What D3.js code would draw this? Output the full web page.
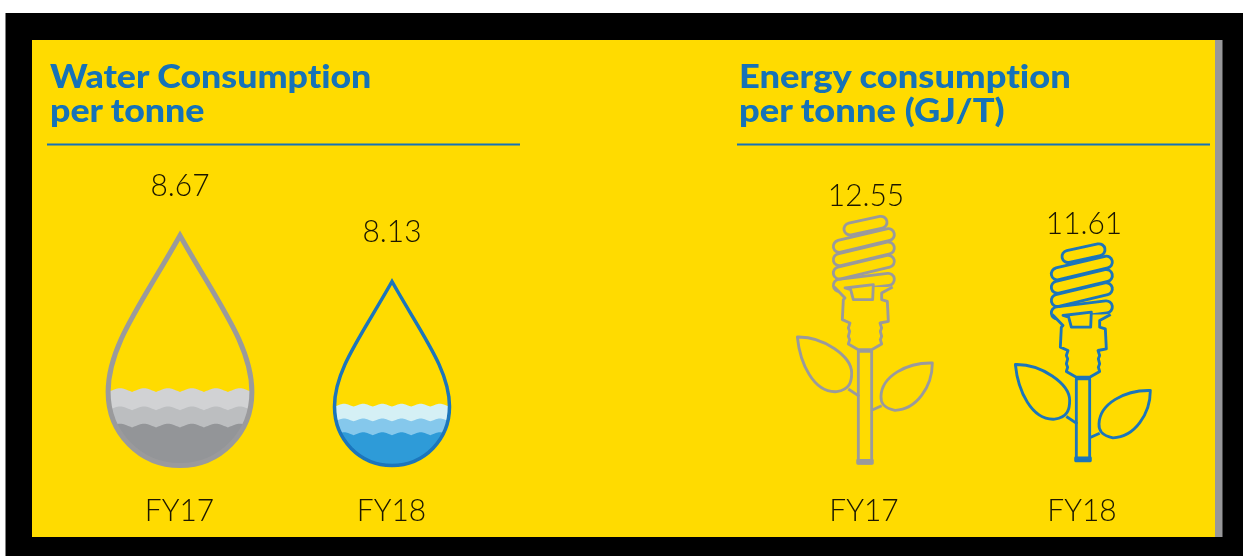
<!DOCTYPE html>
<html><head><meta charset="utf-8">
<script src="https://cdn.jsdelivr.net/npm/d3@7/dist/d3.min.js"></script>
<style>html,body{margin:0;padding:0;background:#fff}svg{display:block}text{font-variant-ligatures:none}</style>
</head><body><svg id="c" width="1243" height="556"></svg>
<script>
// Data
const years = ["FY17", "FY18"];
const waterValues = [8.67, 8.13];
const energyValues = [12.55, 11.61];
const waterTitle = ["Water Consumption", "per tonne"];
const energyTitle = ["Energy consumption", "per tonne (GJ/T)"];
const greyWater = ["#d1d2d4", "#bcbec0", "#939598"];
const blueWater = ["#d5f0f5", "#85c8ec", "#2f9bd8"];
const waterLevels = [0.68, 0.76, 0.835];
const markColors = ["#9a9a9c", "#1a75bb"];

const W = 1243, H = 556;
const svg = d3.select("#c");
const YEL = "#ffdb00", BLUE = "#1272b8", INK = "#1a1600";
const FONT = "Lato, 'Open Sans', sans-serif";

const defs = svg.append("defs");
defs.append("filter").attr("id", "soft")
  .attr("filterUnits", "userSpaceOnUse").attr("x", 0).attr("y", 0).attr("width", W).attr("height", H)
  .append("feGaussianBlur").attr("stdDeviation", 0.6);

// frame
svg.append("rect").attr("x", 5.5).attr("y", 13).attr("width", W - 5.5).attr("height", H - 13).attr("fill", "#000");
svg.append("rect").attr("x", 32).attr("y", 40).attr("width", 1183).attr("height", 497).attr("fill", YEL);
svg.append("rect").attr("x", 1215).attr("y", 40).attr("width", 7.5).attr("height", 497).attr("fill", "#98989a");

const g = svg.append("g").attr("filter", "url(#soft)");

// scales
const waterX = d3.scaleOrdinal().domain(years).range([180, 392]);
const dropH = d3.scaleLinear().domain([8.13, 8.67]).range([184, 230]);
const energyX = d3.scaleOrdinal().domain(years).range([865, 1083]);
const stemLen = d3.scaleLinear().domain([11.61, 12.55]).range([245, 335]);

function title(lines, x, sx) {
  lines.forEach((t, i) => g.append("text")
    .attr("transform", `translate(${x},${88 + i * 33.5}) scale(${sx},1)`)
    .attr("font-family", FONT).attr("font-weight", 900).attr("font-size", 32.5).attr("fill", BLUE).text(t));
}
title(waterTitle, 50, 1.1);
title(energyTitle, 739, 1.118);
g.append("line").attr("x1", 47).attr("x2", 520).attr("y1", 144.5).attr("y2", 144.5).attr("stroke", BLUE).attr("stroke-width", 2);
g.append("line").attr("x1", 737).attr("x2", 1210).attr("y1", 144.5).attr("y2", 144.5).attr("stroke", BLUE).attr("stroke-width", 2);

function label(t, x, y) {
  g.append("text").attr("transform", `translate(${x},${y}) scale(0.95,1)`).attr("text-anchor", "middle")
    .attr("font-family", FONT).attr("font-weight", 300).attr("font-size", 31.5).attr("fill", INK).text(t);
}

// drops
const dropPath = "M0,0 C0.27,0.3 0.5,0.48 0.5,0.68 C0.5,0.86 0.28,1 0,1 C-0.28,1 -0.5,0.86 -0.5,0.68 C-0.5,0.48 -0.27,0.3 0,0 Z";
function scallop(level) {
  const n = 6, bw = 1 / n;
  const p = d3.path();
  p.moveTo(-0.5, level);
  for (let i = 0; i < n; i++) {
    const x = -0.5 + i * bw;
    p.bezierCurveTo(x + bw * 0.25, level - 0.01, x + bw * 0.35, level - 0.016, x + bw * 0.5, level - 0.016);
    p.bezierCurveTo(x + bw * 0.65, level - 0.016, x + bw * 0.75, level - 0.01, x + bw, level);
  }
  p.lineTo(0.5, 1.02); p.lineTo(-0.5, 1.02); p.closePath();
  return p.toString();
}
waterValues.forEach((v, i) => {
  const h = dropH(v), w = h * 0.625, cx = waterX(years[i]), bottom = 465.5, top = bottom - h;
  const tr = `translate(${cx},${top}) scale(${w},${h})`;
  const id = "clip" + i;
  defs.append("clipPath").attr("id", id).append("path").attr("d", dropPath).attr("transform", tr);
  const pal = i === 0 ? greyWater : blueWater;
  const wg = g.append("g").attr("clip-path", `url(#${id})`);
  waterLevels.forEach((l, k) => wg.append("path").attr("d", scallop(l)).attr("transform", tr).attr("fill", pal[k]));
  g.append("path").attr("d", dropPath).attr("transform", tr).attr("fill", "none")
    .attr("vector-effect", "non-scaling-stroke").attr("stroke", markColors[i]).attr("stroke-width", i === 0 ? 5 : 3.5);
  label(d3.format(".2f")(v), cx, top - 40);
  label(years[i], cx - 0.5, 520.5);
});

// bulbs: drawn in 3x glyph units, stem centre at x=0, neck at y=0
const coils = [
  [[-45,-367],[48,-387]],
  [[-77,-315],[70,-350]],
  [[-77,-275],[70,-310]],
  [[-77,-235],[70,-270]],
  [[-77,-198],[70,-216]]
];
const coilT = 36;
function capsule(c) {
  const [[x0, y0], [x1, y1]] = c;
  const a = Math.atan2(y1 - y0, x1 - x0), nx = -Math.sin(a) * coilT / 2, ny = Math.cos(a) * coilT / 2;
  const p = d3.path();
  p.moveTo(x0 - nx, y0 - ny);
  p.lineTo(x1 - nx, y1 - ny);
  p.arc(x1, y1, coilT / 2, a - Math.PI / 2, a + Math.PI / 2);
  p.lineTo(x0 + nx, y0 + ny);
  p.arc(x0, y0, coilT / 2, a + Math.PI / 2, a + 3 * Math.PI / 2);
  p.closePath();
  return p.toString();
}
const collar = "M-92,-193 L-60,-160 L-65,-155 L-68,-95 L-45,-85 L-50,-70 L-46,-60 L-50,-45 L-46,-35 L-50,-22 L-20,-5 L20,-5 L50,-22 L46,-35 L50,-45 L46,-60 L50,-70 L45,-85 L70,-90 L67,-150 L50,-155 L50,-175 L83,-193";
const windowPath = "M-60,-190 L25,-200 L23,-155 L-35,-155 L-43,-185 Z";
const leafL = "M-203,-43 C-125,-45 -40,15 -40,65 C-40,90 -45,115 -85,121 C-155,125 -195,35 -203,-43 Z M-50,113 L-17,135";
const leafR = "M202,35 C125,33 50,75 48,135 C47,155 55,170 90,177 C155,175 202,105 202,35 Z M50,163 L20,177";
const bulbW = 1 / 3;
energyValues.forEach((v, i) => {
  const len = stemLen(v), cx = energyX(years[i]), bottom = i === 0 ? 463 : 460.5;
  const ny = bottom - len * bulbW;
  const b = g.append("g").attr("transform", `translate(${cx},${ny}) scale(${bulbW})`)
    .attr("fill", "none").attr("stroke", markColors[i]).attr("stroke-width", 8.5).attr("stroke-linejoin", "round");
  coils.forEach(c => b.append("path").attr("d", capsule(c)));
  b.append("path").attr("d", collar).attr("fill", YEL);
  b.append("path").attr("d", windowPath).attr("fill", YEL);
  b.append("path").attr("d", leafL);
  b.append("path").attr("d", leafR);
  b.append("rect").attr("x", -20).attr("y", 0).attr("width", 40).attr("height", len);
  b.append("rect").attr("x", -22).attr("y", len - 8).attr("width", 44).attr("height", 9).attr("fill", markColors[i]);
  const top = bottom - len * bulbW - 403 * bulbW;
  label(d3.format(".2f")(v), cx + 1, top - 11);
  label(years[i], cx - 1, 520.5);
});
</script></body></html>
